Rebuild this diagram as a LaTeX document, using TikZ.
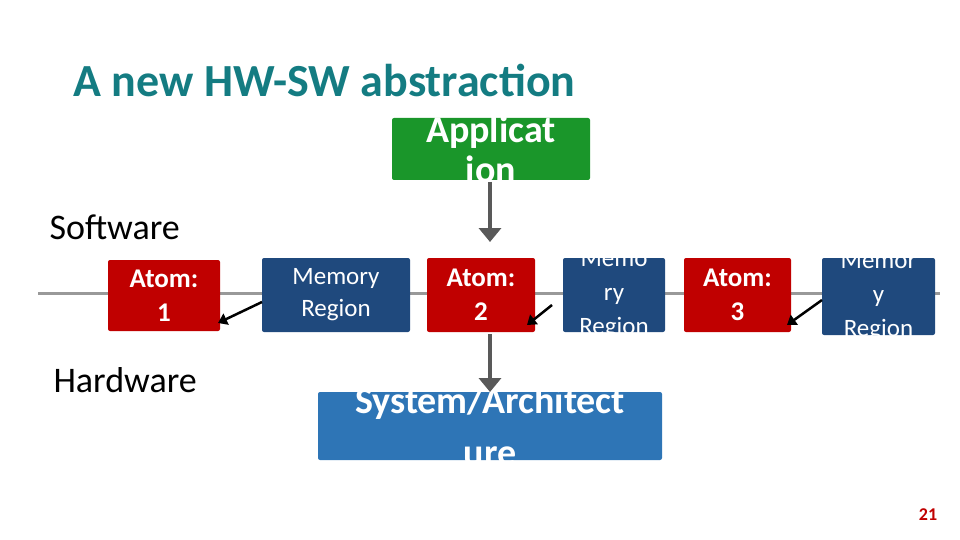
\documentclass[tikz,border=0pt]{standalone}
\usepackage{fontspec}
\setmainfont{Carlito}
\usetikzlibrary{arrows.meta}
\begin{document}
\begin{tikzpicture}[x=1pt,y=-1pt,
 txt/.style={text=white,align=center,inner sep=0},
 garr/.style={draw=gray!70!black,line width=3.5pt,-{Triangle[length=14pt,width=22pt]}},
 barr/.style={draw=black,line width=2.5pt,-{Triangle[length=9pt,width=12pt]}}]
\useasboundingbox (0,0) rectangle (960,540);
\definecolor{teal}{RGB}{20,124,130}
\definecolor{gr}{RGB}{26,150,42}
\definecolor{rd}{RGB}{192,0,0}
\definecolor{db}{RGB}{31,73,125}
\definecolor{lb}{RGB}{46,117,182}
\node[font=\bfseries\fontsize{46}{48}\selectfont,text=teal,anchor=west] (title) at (70,80) {A new HW-SW abstraction};
\node[font=\fontsize{36}{38}\selectfont,anchor=west] (sw) at (46,227) {Software};
\node[font=\fontsize{36}{38}\selectfont,anchor=west] (hw) at (50,380) {Hardware};
\draw[gray!80,line width=3pt] (38,293) -- (940,293);
\newcommand{\cbox}[8]{%
 \fill[#6,rounded corners=2pt] (#2,#3) rectangle (#4,#5);
 \begin{scope}\clip (#2,#3) rectangle (#4,#5);
 \node[txt,font=#7] (#1) at ({(#2+#4)/2},{(#3+#5)/2}) {#8};
 \end{scope}}
\cbox{app}{392}{118}{590}{180}{gr}{\bfseries\fontsize{38}{40}\selectfont}{Applicat\\ion}
\cbox{a1}{108}{260}{220}{331}{rd}{\bfseries\fontsize{27}{34}\selectfont}{Atom:\\1}
\cbox{m1}{262}{258}{410}{332}{db}{\fontsize{25}{32}\selectfont}{Memory\\Region}
\cbox{a2}{427}{258}{535}{332}{rd}{\bfseries\fontsize{27}{34}\selectfont}{Atom:\\2}
\cbox{m2}{563}{258}{665}{332}{db}{\fontsize{25}{34}\selectfont}{Memo\\ry\\Region}
\cbox{a3}{684}{258}{791}{332}{rd}{\bfseries\fontsize{27}{34}\selectfont}{Atom:\\3}
\cbox{m3}{822}{258}{935}{335}{db}{\fontsize{25}{34}\selectfont}{Memor\\y\\Region}
\cbox{sys}{318}{392}{662}{460}{lb}{\bfseries\fontsize{38}{52}\selectfont}{System/Architect\\ure}
\coordinate (g1a) at (490,182); \coordinate (g1b) at (490,242);
\coordinate (g2a) at (490,334); \coordinate (g2b) at (490,392);
\draw[garr] (g1a) -- (g1b);
\draw[garr] (g2a) -- (g2b);
\coordinate (b1a) at (262,302); \coordinate (b1b) at (218,323);
\coordinate (b2a) at (552,305); \coordinate (b2b) at (527,325);
\coordinate (b3a) at (822,300); \coordinate (b3b) at (787,325);
\draw[barr] (b1a) -- (b1b);
\draw[barr] (b2a) -- (b2b);
\draw[barr] (b3a) -- (b3b);
\node[font=\bfseries\fontsize{18}{20}\selectfont,text=rd] (pg) at (928,515) {21};
\end{tikzpicture}
\end{document}
